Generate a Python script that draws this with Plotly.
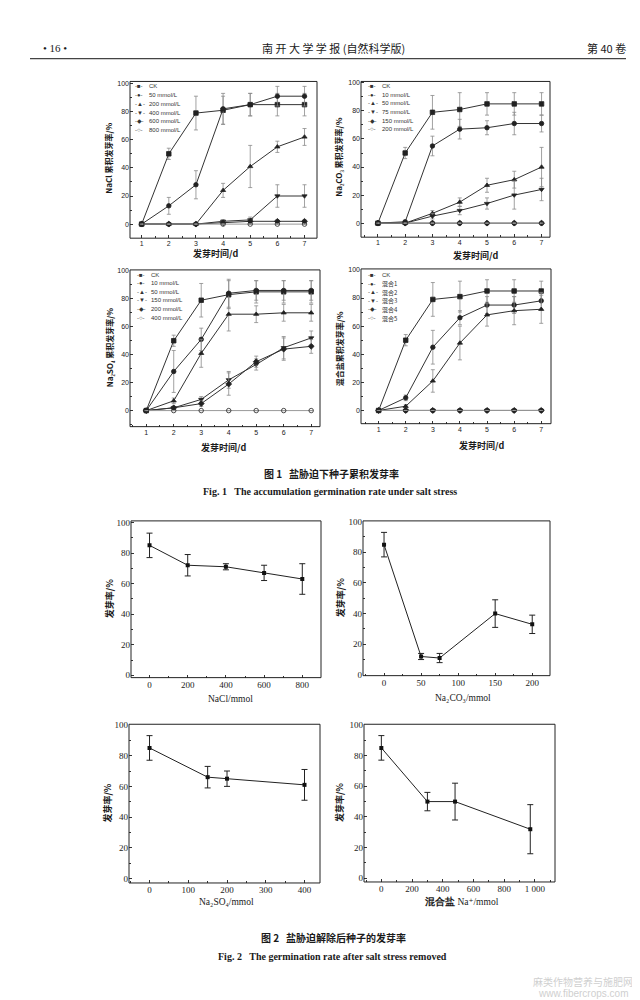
import plotly.graph_objects as go

W, H = 640, 1000

# ---------------- data: Fig.1 cumulative germination ----------------
days = [1, 2, 3, 4, 5, 6, 7]

nacl_names = ["CK", "50 mmol/L", "200 mmol/L", "400 mmol/L", "600 mmol/L", "800 mmol/L"]
nacl_ck = [0, 50, 79, 81, 85, 85, 85]
nacl_ck_err = [0, 4, 12, 10, 8, 8, 8]
nacl_50 = [0, 13, 28, 82, 85, 91, 91]
nacl_50_err = [0, 6, 10, 11, 8, 7, 7]
nacl_200 = [0, 0, 0, 24, 41, 55, 62]
nacl_200_err = [0, 0, 0, 5, 15, 4, 6]
nacl_400 = [0, 0, 0, 2, 3, 20, 20]
nacl_400_err = [0, 0, 0, 1, 2, 8, 8]
nacl_600 = [0, 0, 0, 1, 2, 2, 2]
nacl_600_err = [0, 0, 0, 1, 1, 1, 1]
nacl_800 = [0, 0, 0, 0, 0, 0, 0]
nacl_800_err = [0, 0, 0, 0, 0, 0, 0]

na2co3_names = ["CK", "10 mmol/L", "50 mmol/L", "75 mmol/L", "150 mmol/L", "200 mmol/L"]
na2co3_ck = [0, 50, 79, 81, 85, 85, 85]
na2co3_ck_err = [0, 4, 12, 12, 8, 8, 8]
na2co3_10 = [0, 1, 55, 67, 68, 71, 71]
na2co3_10_err = [0, 1, 7, 7, 5, 8, 6]
na2co3_50 = [0, 0, 7, 15, 27, 31, 40]
na2co3_50_err = [0, 0, 2, 3, 5, 6, 14]
na2co3_75 = [0, 0, 5, 9, 14, 20, 24]
na2co3_75_err = [0, 0, 2, 3, 4, 10, 8]
na2co3_150 = [0, 0, 0, 0, 0, 0, 0]
na2co3_150_err = [0, 0, 0, 0, 0, 0, 0]
na2co3_200 = [0, 0, 0, 0, 0, 0, 0]
na2co3_200_err = [0, 0, 0, 0, 0, 0, 0]

na2so4_names = ["CK", "10 mmol/L", "50 mmol/L", "150 mmol/L", "200 mmol/L", "400 mmol/L"]
na2so4_ck = [0, 50, 79, 83, 85, 85, 85]
na2so4_ck_err = [0, 4, 12, 10, 8, 8, 8]
na2so4_10 = [0, 28, 51, 84, 86, 86, 86]
na2so4_10_err = [0, 15, 8, 10, 7, 7, 7]
na2so4_50 = [0, 7, 41, 69, 69, 70, 70]
na2so4_50_err = [0, 2, 10, 12, 6, 6, 6]
na2so4_150 = [0, 2, 8, 22, 33, 45, 52]
na2so4_150_err = [0, 1, 2, 6, 4, 8, 5]
na2so4_200 = [0, 2, 5, 19, 35, 44, 46]
na2so4_200_err = [0, 1, 2, 8, 4, 8, 5]
na2so4_400 = [0, 0, 0, 0, 0, 0, 0]
na2so4_400_err = [0, 0, 0, 0, 0, 0, 0]

mix_names = ["CK", "混合1", "混合2", "混合3", "混合4", "混合5"]
mix_ck = [0, 50, 79, 81, 85, 85, 85]
mix_ck_err = [0, 4, 12, 11, 8, 8, 7]
mix_1 = [0, 9, 45, 66, 75, 75, 78]
mix_1_err = [0, 2, 12, 5, 6, 6, 6]
mix_2 = [0, 3, 21, 48, 68, 71, 72]
mix_2_err = [0, 1, 8, 12, 8, 10, 10]
mix_3 = [0, 0, 0, 0, 0, 0, 0]
mix_3_err = [0, 0, 0, 0, 0, 0, 0]
mix_4 = [0, 0, 0, 0, 0, 0, 0]
mix_4_err = [0, 0, 0, 0, 0, 0, 0]
mix_5 = [0, 0, 0, 0, 0, 0, 0]
mix_5_err = [0, 0, 0, 0, 0, 0, 0]

# ---------------- data: Fig.2 germination after stress removed ----------------
f2_nacl_x = [0, 200, 400, 600, 800]
f2_nacl_y = [85, 72, 71, 67, 63]
f2_nacl_err = [8, 7, 2, 5, 10]

f2_na2co3_x = [0, 50, 75, 150, 200]
f2_na2co3_y = [85, 12, 11, 40, 33]
f2_na2co3_err = [8, 2, 3, 9, 6]

f2_na2so4_x = [0, 150, 200, 400]
f2_na2so4_y = [85, 66, 65, 61]
f2_na2so4_err = [8, 7, 5, 10]

f2_mix_x = [0, 300, 480, 970]
f2_mix_y = [85, 50, 50, 32]
f2_mix_err = [8, 6, 12, 16]

# ---------------- styling helpers ----------------
SERIF = "Liberation Serif, DejaVu Serif"
SANS = "Liberation Sans, DejaVu Sans"
CJK = "Noto Sans CJK SC"

fig = go.Figure()
annotations = []
shapes = []


def ann(text, x, y, size, family=SERIF, angle=0, xanchor="center", color="#1a1a1a"):
    annotations.append(dict(
        text=text, x=x / W, y=1 - y / H, xref="paper", yref="paper",
        showarrow=False, xanchor=xanchor, yanchor="middle", textangle=angle,
        font=dict(size=size, family=family, color=color)))


def axes(i, l, r, t, b, xr, yr, xtv, xtt, ytv, kind):
    xs = "xaxis" if i == 1 else f"xaxis{i}"
    ys = "yaxis" if i == 1 else f"yaxis{i}"
    yid = "y" if i == 1 else f"y{i}"
    xid = "x" if i == 1 else f"x{i}"
    if kind == 1:
        tf = dict(size=7, family=SANS, color="#222")
        xminor = dict(ticks="inside", ticklen=2, dtick=0.5, tickcolor="#333")
    else:
        tf = dict(size=9, family=SERIF, color="#222")
        xminor = dict(ticks="inside", ticklen=2, dtick=(xtv[1] - xtv[0]) / 2, tickcolor="#333")
    fig.layout[xs] = dict(
        domain=[l / W, r / W], range=xr, anchor=yid, showgrid=False, zeroline=False,
        tickmode="array", tickvals=xtv, ticktext=xtt, ticks="inside", ticklen=3,
        tickcolor="#333", tickfont=tf, showline=False, minor=xminor)
    fig.layout[ys] = dict(
        domain=[1 - b / H, 1 - t / H], range=yr, anchor=xid, showgrid=False, zeroline=False,
        tickmode="array", tickvals=ytv, ticks="inside", ticklen=3, tickcolor="#333",
        tickfont=tf, showline=False,
        minor=dict(ticks="inside", ticklen=2, dtick=10, tickcolor="#333"))
    shapes.append(dict(type="rect", xref=f"{xid} domain", yref=f"{yid} domain",
                       x0=0, x1=1, y0=0, y1=1, line=dict(color="#222", width=1)))
    return xid, yid


SYMS = ["square", "circle", "triangle-up", "triangle-down", "diamond", "circle-open"]
GLYPHS = ["■", "●", "▲", "▼", "◆", "○"]


def fig1_panel(i, box, xr, yr, series, names, leg_x, leg_y0, leg_dy, ytitle, ytx, yty, xtx, xty):
    l, r, t, b = box
    xid, yid = axes(i, l, r, t, b, xr, yr, days, [str(d) for d in days],
                    [0, 20, 40, 60, 80, 100], 1)
    for k, (vals, err) in enumerate(series):
        opencircle = SYMS[k] == "circle-open"
        fig.add_trace(go.Scatter(
            x=days, y=vals, xaxis=xid, yaxis=yid, mode="lines+markers",
            line=dict(color="#999" if opencircle else "#333", width=1),
            marker=dict(symbol=SYMS[k], size=4.5, color="#222",
                        line=dict(color="#222", width=0.8)),
            error_y=dict(type="data", array=err, visible=True, color="#8a8a8a",
                         thickness=0.8, width=2),
            name=names[k], showlegend=False))
    for k, nm in enumerate(names):
        yy = leg_y0 + k * leg_dy
        ann(f"-{GLYPHS[k]}-", leg_x, yy, 6, SANS, xanchor="left", color="#333")
        ann(nm, leg_x + 14, yy, 6, SANS if k == 0 or "mmol" in nm else CJK,
            xanchor="left", color="#333")
    ann(ytitle, ytx, yty, 8, CJK, angle=-90)
    ann("<b>发芽时间/d</b>", xtx, xty, 9, CJK)


fig1_panel(1, (122, 309, 70, 228), [0.57, 7.46], [-10, 101.5],
           [(nacl_ck, nacl_ck_err), (nacl_50, nacl_50_err), (nacl_200, nacl_200_err),
            (nacl_400, nacl_400_err), (nacl_600, nacl_600_err), (nacl_800, nacl_800_err)],
           nacl_names, 125, 75, 8.8, "<b>NaCl 累积发芽率/%</b>", 101, 148, 207, 243)

fig1_panel(2, (353, 542, 70, 227), [0.38, 7.31], [-10, 101],
           [(na2co3_ck, na2co3_ck_err), (na2co3_10, na2co3_10_err), (na2co3_50, na2co3_50_err),
            (na2co3_75, na2co3_75_err), (na2co3_150, na2co3_150_err), (na2co3_200, na2co3_200_err)],
           na2co3_names, 358, 75, 8.6, "<b>Na₂CO₃ 累积发芽率/%</b>", 331, 146, 467, 245)

fig1_panel(3, (122, 312, 260, 418), [0.41, 7.32], [-11.5, 100.7],
           [(na2so4_ck, na2so4_ck_err), (na2so4_10, na2so4_10_err), (na2so4_50, na2so4_50_err),
            (na2so4_150, na2so4_150_err), (na2so4_200, na2so4_200_err), (na2so4_400, na2so4_400_err)],
           na2so4_names, 127, 265, 8.6, "<b>Na₂SO₄ 累积发芽率/%</b>", 101, 338, 215, 439)

fig1_panel(4, (353, 543, 259, 415), [0.35, 7.36], [-9.4, 100.7],
           [(mix_ck, mix_ck_err), (mix_1, mix_1_err), (mix_2, mix_2_err),
            (mix_3, mix_3_err), (mix_4, mix_4_err), (mix_5, mix_5_err)],
           mix_names, 358, 265, 8.7, "<b>混合盐累积发芽率/%</b>", 331, 340, 473, 437)


def fig2_panel(i, box, xr, yr, xs, ys_, err, xtv, xtt, xtitle, xtx, xty, ytx):
    l, r, t, b = box
    xid, yid = axes(i, l, r, t, b, xr, yr, xtv, xtt, [0, 20, 40, 60, 80, 100], 2)
    fig.add_trace(go.Scatter(
        x=xs, y=ys_, xaxis=xid, yaxis=yid, mode="lines+markers",
        line=dict(color="#222", width=1),
        marker=dict(symbol="square", size=4, color="#111"),
        error_y=dict(type="data", array=err, visible=True, color="#222",
                     thickness=1, width=3),
        showlegend=False))
    ann(xtitle, xtx, xty, 9.5, SERIF)
    ann("<b>发芽率/%</b>", ytx, (t + b) / 2, 9, CJK, angle=-90)


fig2_panel(5, (123, 313, 513, 671), [-97, 898], [-1.5, 101], f2_nacl_x, f2_nacl_y, f2_nacl_err,
           [0, 200, 400, 600, 800], ["0", "200", "400", "600", "800"],
           "NaCl/mmol", 222, 693, 101)
fig2_panel(6, (355, 542, 513, 669), [-28.4, 224], [-0.5, 100.5], f2_na2co3_x, f2_na2co3_y, f2_na2co3_err,
           [0, 50, 100, 150, 200], ["0", "50", "100", "150", "200"],
           "Na₂CO₃/mmol", 455, 692, 332)
fig2_panel(7, (121, 312, 718, 878), [-53, 440], [-2.8, 100.4], f2_na2so4_x, f2_na2so4_y, f2_na2so4_err,
           [0, 100, 200, 300, 400], ["0", "100", "200", "300", "400"],
           "Na₂SO₄/mmol", 218, 897, 100)
fig2_panel(8, (356, 547, 718, 877), [-113, 1131], [-2.4, 100.4], f2_mix_x, f2_mix_y, f2_mix_err,
           [0, 200, 400, 600, 800, 1000], ["0", "200", "400", "600", "800", "1 000"],
           "<b>混合盐</b> Na⁺/mmol", 453, 897, 331)

# ---------------- page text ----------------
ann("• 16 •", 47, 36, 11, SERIF)
ann("南 开 大 学 学 报 (自然科学版)", 325, 36, 11, CJK)
ann("第 40 卷", 598, 36, 11, CJK)
shapes.append(dict(type="line", xref="paper", yref="paper", x0=22 / W, x1=618 / W,
                   y0=1 - 47 / H, y1=1 - 47 / H, line=dict(color="#444", width=1.2)))

ann("<b>图 1   盐胁迫下种子累积发芽率</b>", 323, 465, 10, CJK)
ann("<b>Fig. 1   The accumulation germination rate under salt stress</b>", 322, 483, 10, SERIF)
ann("<b>图 2   盐胁迫解除后种子的发芽率</b>", 325, 933, 10, CJK)
ann("<b>Fig. 2   The germination rate after salt stress removed</b>", 324, 952, 10, SERIF)

ann("麻类作物营养与施肥网", 575, 977, 10, CJK, color="#cfcfcf")
ann("www.fibercrops.com", 575, 989, 10, SANS, color="#cfcfcf")

fig.update_layout(
    width=W, height=H, margin=dict(l=0, r=0, t=0, b=0),
    paper_bgcolor="white", plot_bgcolor="white", showlegend=False,
    annotations=annotations, shapes=shapes)

fig.write_html("out.html")
